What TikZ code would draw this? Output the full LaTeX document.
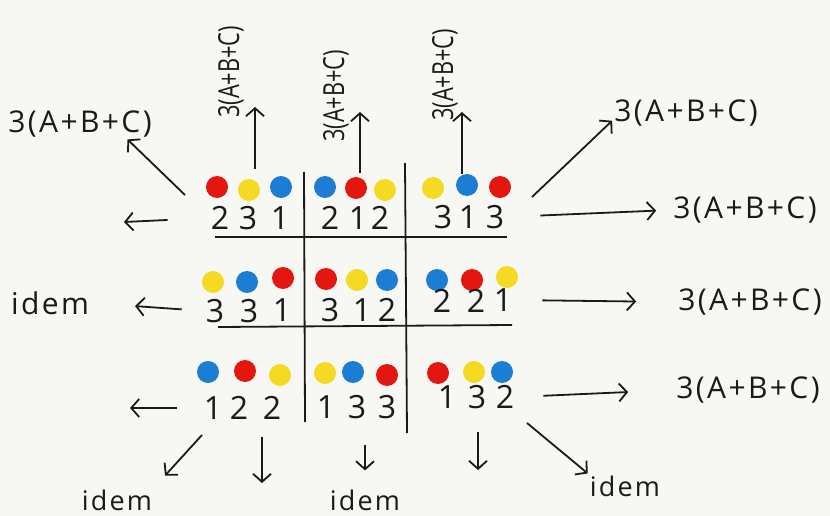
\documentclass[tikz,border=0pt]{standalone}
\usepackage{fontspec}
\setmainfont{Open Sans}
\usetikzlibrary{arrows.meta,positioning}
\definecolor{dotred}{HTML}{E3170F}
\definecolor{dotyellow}{HTML}{F5DA24}
\definecolor{dotblue}{HTML}{1C7DD4}
\definecolor{paper}{HTML}{F7F7F4}
\definecolor{ink}{HTML}{1A1A1A}
\newcommand{\narrowsum}{\scalebox{0.75}[1]{3(A+B+C)}}

\begin{document}
\begin{tikzpicture}[x=1pt,y=-1pt,
  dot/.style={circle,inner sep=0pt,minimum size=22pt},
  digit/.style={inner sep=1pt,text=ink,font=\fontsize{32}{32}\selectfont},
  sumlabel/.style={inner sep=2pt,text=ink,font=\fontsize{30}{30}\selectfont\addfontfeature{LetterSpace=8}},
  sumlabelup/.style={sumlabel,rotate=90,font=\fontsize{29}{29}\selectfont},
  idemlabel/.style={inner sep=2pt,text=ink,font=\fontsize{30}{30}\selectfont\addfontfeature{LetterSpace=8}},
  idemsmall/.style={idemlabel,font=\fontsize{27}{27}\selectfont\addfontfeature{LetterSpace=8}},
  arr/.style={draw=ink,line width=1.8pt,-{Straight Barb[length=8pt,width=18pt]}},
  gridline/.style={draw=ink,line width=1.8pt}]
\useasboundingbox (0,0) rectangle (830,516);
\fill[paper] (0,0) rectangle (830,516);

% the grid
\draw[gridline] (304,172) -- (305,422);
\draw[gridline] (405,163) -- (407,433);
\draw[gridline] (215,237) -- (507,237);
\draw[gridline] (218,327) -- (512,325);

% coloured dots
\foreach \n/\x/\y/\c in {d111/217/187/dotred, d112/249/190/dotyellow, d113/281/187/dotblue,
    d121/325/187/dotblue, d122/356/188/dotred, d123/385/190/dotyellow,
    d131/433/188/dotyellow, d132/467/185/dotblue, d133/500/187/dotred,
    d211/213/282/dotyellow, d212/247/282/dotblue, d213/283/278/dotred,
    d221/326/279/dotred, d222/357/280/dotyellow, d223/387/280/dotblue,
    d231/437/280/dotblue, d232/472/280/dotred, d233/507/277/dotyellow,
    d311/208/372/dotblue, d312/245/371/dotred, d313/280/375/dotyellow,
    d321/325/373/dotyellow, d322/353/372/dotblue, d323/387/375/dotred,
    d331/438/373/dotred, d332/474/372/dotyellow, d333/502/372/dotblue}
  \node[dot,fill=\c] (\n) at (\x,\y) {};

% numbers under the dots
\foreach \n/\x/\y/\t in {n111/220/218/2, n112/248/218/3, n113/280/218/1,
    n121/330/218/2, n122/358/218/1, n123/380/218/2,
    n131/443/217/3, n132/468/217/1, n133/495/217/3,
    n211/215/311/3, n212/249/311/3, n213/282/310/1,
    n221/330/310/3, n222/362/310/1, n223/387/310/2,
    n231/442/301/2, n232/476/301/2, n233/503/300/1,
    n311/213/408/1, n312/239/408/2, n313/272/408/2,
    n321/326/407/1, n322/357/407/3, n323/387/407/3,
    n331/447/397/1, n332/477/397/3, n333/505/397/2}
  \node[digit] (\n) at (\x,\y) {\t};

% labels
\node[sumlabel] (ul) at (80,124) {3(A+B+C)};
\node[sumlabel] (ur) at (686,113) {3(A+B+C)};
\node[sumlabel] (r1) at (745,210) {3(A+B+C)};
\node[sumlabel] (r2) at (750,302) {3(A+B+C)};
\node[sumlabel] (r3) at (748,390) {3(A+B+C)};
\node[sumlabelup] (t1) at (231,72) {\narrowsum};
\node[sumlabelup] (t2) at (336,96) {\narrowsum};
\node[sumlabelup] (t3) at (445,75) {\narrowsum};
\node[idemlabel] (i2) at (50,303) {idem};
\node[idemsmall] (i3) at (117,500) {idem};
\node[idemsmall] (i4) at (365,500) {idem};
\node[idemsmall] (i5) at (625,486) {idem};

% arrow ends
\coordinate (u1) at (255,107);
\coordinate (u2) at (360,112);
\coordinate (u3) at (462,112);
\coordinate (sul) at (185,195);
\coordinate (sur) at (532,197);
\coordinate (l1) at (124,222);
\coordinate (l3) at (130,408);
\coordinate (sdl) at (202,435);
\coordinate (dn1) at (262,483);
\coordinate (dn3) at (478,470);
\coordinate (sdr) at (527,423);

% arrows
\draw[arr,shorten <=10pt] (u1 |- d112.north) -- (u1);
\draw[arr,shorten <=4pt] (u2 |- d122.north) -- (u2);
\draw[arr] (u3 |- d132.north) -- (u3);
\draw[arr] (sul) -- (ul.-18);
\draw[arr] (sur) -- (ur.186);
\draw[arr,shorten <=35pt,shorten >=15pt] (n133.east) -- (r1.west);
\draw[arr,shorten <=29pt,shorten >=40pt] (n233.east) -- (r2.west);
\draw[arr,shorten <=28pt,shorten >=46pt] (n333.east) -- (r3.west);
\draw[arr,shorten <=42pt] (n111.west) -- (l1);
\draw[arr,shorten <=23pt,shorten >=44pt] (n211.west) -- (i2.east);
\draw[arr,shorten <=26pt] (n311.west) -- (l3);
\draw[arr,shorten >=16pt] (sdl) -- (i3.north east);
\draw[arr,shorten <=16pt] (dn1 |- n313.south) -- (dn1);
\draw[arr,shorten <=25pt,shorten >=17pt] (i4.north |- n322.south) -- (i4.north);
\draw[arr,shorten <=22pt] (dn3 |- n332.south) -- (dn3);
\draw[arr] (sdr) -- (i5.north west);
\end{tikzpicture}
\end{document}
